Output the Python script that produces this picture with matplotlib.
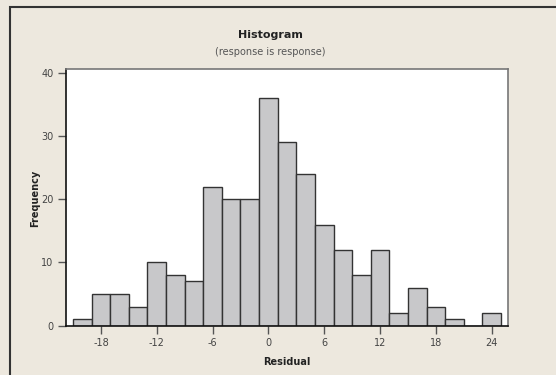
import matplotlib.pyplot as plt
from matplotlib.patches import Rectangle

# bin midpoints (width 2) and counts
bin_mid = [-20, -18, -16, -14, -12, -10, -8, -6, -4, -2, 0, 2, 4, 6,
           8, 10, 12, 14, 16, 18, 20, 22, 24]
counts = [1, 5, 5, 3, 10, 8, 7, 22, 20, 20, 36, 29, 24, 16,
          12, 8, 12, 2, 6, 3, 1, 0, 2]
x_ticks = [-18, -12, -6, 0, 6, 12, 18, 24]
y_ticks = [0, 10, 20, 30, 40]

plt.rcParams["axes.unicode_minus"] = False

bg = "#EDE8DE"
fig = plt.figure(figsize=(5.56, 3.75), dpi=100, facecolor=bg)

# outer panel border (cropped on the right and bottom)
fig.add_artist(Rectangle((10 / 556, -0.1), 1.2, 1.1 - 7 / 375,
                         transform=fig.transFigure, fill=False,
                         edgecolor="#333333", linewidth=1.5))

ax = fig.add_axes([0.1187, 0.1315, 0.795, 0.6837])
ax.set_facecolor("white")
ax.bar(bin_mid, counts, width=2, color="#C8C8CA", edgecolor="#333333",
       linewidth=1.0, zorder=2)

ax.set_xlim(-21.76, 25.76)
ax.set_ylim(0, 40.55)
ax.set_xticks(x_ticks)
ax.set_yticks(y_ticks)
ax.tick_params(axis="both", direction="out", length=6, width=1,
               color="#555555", labelsize=7, labelcolor="#444444", pad=3)

for side in ("left", "bottom"):
    ax.spines[side].set_color("#111111")
    ax.spines[side].set_linewidth(1.2)
for side in ("top", "right"):
    ax.spines[side].set_color("#777777")
    ax.spines[side].set_linewidth(1.2)

ax.set_xlabel("Residual", fontsize=7, fontweight="bold", color="#222222",
              labelpad=6)
fig.text(35 / 556, 1 - 198 / 375, "Frequency", rotation=90, fontsize=7,
         fontweight="bold", color="#222222", ha="center", va="center")

fig.text(270 / 556, 1 - 35 / 375, "Histogram", fontsize=8, fontweight="bold",
         color="#222222", ha="center", va="center")
fig.text(270 / 556, 1 - 52 / 375, "(response is response)", fontsize=7,
         color="#555555", ha="center", va="center")

fig.savefig("out.png", dpi=100, facecolor=bg)
